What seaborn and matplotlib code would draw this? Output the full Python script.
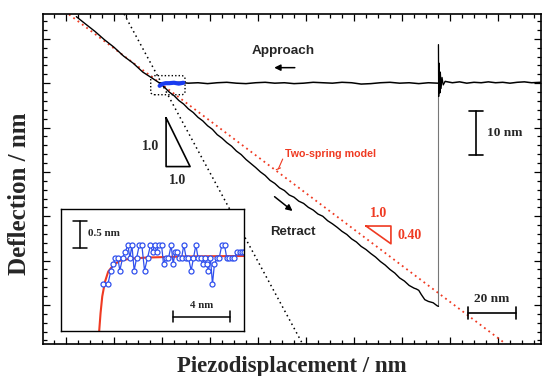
"""curva de forca: deflexao x piezodeslocamento, com inset do contato."""

import matplotlib

matplotlib.use("Agg")
import matplotlib.pyplot as plt
import seaborn as sns
from matplotlib.patches import FancyBboxPatch
from matplotlib.ticker import MultipleLocator

# dados (nm)
approach_x = [39, 43, 47, 51, 55, 59, 63, 67, 71, 75, 79, 83, 87, 91, 95, 99, 103, 107, 111, 115,
              119, 123, 127, 131, 135, 139, 143, 147, 151, 155]
approach_y = [50.1, 50.0, 50.2, 50.0, 50.1, 49.9, 50.1, 50.2, 50.0, 49.9, 50.1, 50.2, 50.0, 50.1, 49.9,
              50.0, 50.2, 50.1, 50.0, 50.2, 50.1, 49.8, 49.9, 50.1, 50.2, 50.0, 50.1, 49.9, 50.1, 50.0]
far_x = [158, 161, 164, 167, 170, 173, 176, 179, 182, 185, 188, 191, 194, 197.9]
far_y = [50.4, 50.1, 50.3, 50.0, 50.2, 50.1, 50.3, 50.1, 50.2, 50.0, 50.2, 50.3, 50.1, 50.2]
ring_x = [155.2, 155.3, 155.5, 155.8, 156.0, 156.3, 156.7, 157.2, 158.0]
ring_y = [58.7, 47.0, 54.5, 47.8, 52.5, 48.8, 51.3, 49.6, 50.4]
jump_x = [155.2, 155.2]
jump_y = [-0.3, 58.7]

contact_x = [4.3, 8, 12, 16, 20, 24, 28, 32, 36, 38.8]
contact_y = [65.0, 63.4, 61.7, 59.8, 58.1, 56.1, 54.5, 52.5, 51.1, 50.1]
retract_x = [38.8, 41, 43, 45, 47, 49, 51, 53, 55, 57, 59, 61, 63, 65, 67, 69, 71, 73, 75, 77, 79,
             81, 83, 85, 87, 89, 91, 93, 95, 97, 99, 101, 103, 105, 107, 109, 111, 113, 115, 117,
             119, 121, 123, 125, 127, 129, 131, 133, 135, 137, 139, 141, 143, 145, 146, 147, 148,
             149.5, 151, 153, 154.7, 155.2]
retract_y = [50.1, 49.1, 48.0, 47.2, 46.1, 45.3, 44.2, 43.4, 42.3, 41.5, 40.4, 39.6, 38.4, 37.6, 36.6,
             35.8, 34.7, 33.9, 32.8, 31.9, 31.0, 30.0, 29.2, 28.1, 27.4, 26.4, 25.8, 24.8, 24.3, 23.4,
             22.9, 22.0, 21.4, 20.5, 20.0, 19.0, 18.3, 17.5, 16.6, 15.9, 14.9, 14.2, 13.2, 12.5, 11.6,
             10.8, 9.8, 9.0, 8.0, 7.2, 6.1, 5.4, 4.4, 3.8, 3.6, 3.3, 2.4, 1.2, 0.8, 0.5, -0.2, -0.3]
blue_x = [39.0, 40.0, 41.5, 43.0, 45.0, 47.0, 48.9]
blue_y = [49.4, 49.8, 50.0, 50.0, 50.1, 49.9, 50.1]

slope1_x = [24.2, 98.6]
slope1_y = [65.6, -8.8]
model_x = [1.25, 183.3]
model_y = [65.5, -8.8]

# inset (nm)
inset_x = [2.98, 3.31, 3.52, 3.69, 3.83, 4.01, 4.15, 4.34, 4.53, 4.72, 4.86, 5.00, 5.16, 5.33, 5.52,
           5.70, 5.89, 6.10, 6.31, 6.46, 6.60, 6.74, 6.90, 7.09, 7.23, 7.39, 7.58, 7.77, 7.91, 8.05,
           8.19, 8.33, 8.50, 8.66, 8.83, 8.99, 9.18, 9.34, 9.51, 9.67, 9.84, 10.00, 10.14, 10.26,
           10.40, 10.54, 10.68, 10.82, 10.99, 11.15, 11.34, 11.53, 11.69, 11.85, 12.04, 12.23,
           12.42, 12.61, 12.79, 12.92]
inset_y = [0.87, 0.87, 1.12, 1.24, 1.35, 1.35, 1.12, 1.35, 1.47, 1.59, 1.35, 1.59, 1.12, 1.35, 1.59,
           1.59, 1.12, 1.35, 1.59, 1.47, 1.59, 1.47, 1.59, 1.59, 1.24, 1.35, 1.35, 1.59, 1.24, 1.47,
           1.47, 1.35, 1.35, 1.59, 1.35, 1.35, 1.12, 1.35, 1.59, 1.35, 1.35, 1.24, 1.35, 1.24, 1.12,
           1.35, 0.87, 1.24, 1.35, 1.35, 1.59, 1.59, 1.35, 1.35, 1.35, 1.35, 1.47, 1.47, 1.47, 1.47]
fit_x = [2.68, 2.79, 2.91, 3.10, 3.33, 3.69, 4.15, 4.86, 6.03, 8.61, 12.95]
fit_y = [-0.05, 0.33, 0.64, 0.91, 1.10, 1.22, 1.30, 1.34, 1.36, 1.38, 1.39]

RED = "#ef3a22"
BLUE = "#1a3cf0"
SERIF = "Liberation Serif"
SANS = "Liberation Sans"


def line(ax, x, y, **kw):
    sns.lineplot(x=x, y=y, ax=ax, sort=False, estimator=None, legend=False, **kw)


sns.set_style("ticks")
plt.rcParams["font.family"] = ["Liberation Serif", "DejaVu Serif"]

fig = plt.figure(figsize=(5.42, 3.76), dpi=100)
ax = fig.add_axes([0.0793, 0.0851, 0.9187, 0.8777])

line(ax, model_x, model_y, color=RED, lw=1.3, linestyle=(0, (1, 2)))
line(ax, slope1_x, slope1_y, color="black", lw=1.1, linestyle=(0, (1, 2.2)))
line(ax, jump_x, jump_y, color="#777777", lw=0.8)
line(ax, contact_x, contact_y, color="black", lw=1.0)
line(ax, retract_x, retract_y, color="black", lw=1.0)
line(ax, approach_x, approach_y, color="black", lw=1.1)
line(ax, ring_x, ring_y, color="black", lw=0.9)
line(ax, far_x, far_y, color="black", lw=1.1)
line(ax, blue_x, blue_y, color=BLUE, lw=3)

box = FancyBboxPatch((35.3, 47.4), 14.3, 4.3, boxstyle="round,pad=0,rounding_size=1.5",
                     mutation_aspect=2.4 / 4.43, fill=False, ec="black", lw=1.0, ls=(0, (1, 1.5)))
ax.add_patch(box)

ax.set_xlim(-9.6, 197.9)
ax.set_ylim(-8.8, 65.6)
ax.xaxis.set_major_locator(MultipleLocator(20))
ax.xaxis.set_minor_locator(MultipleLocator(5))
ax.yaxis.set_major_locator(MultipleLocator(10))
ax.yaxis.set_minor_locator(MultipleLocator(2))
ax.tick_params(which="both", direction="in", top=True, right=True, labelbottom=False,
               labelleft=False, width=0.9, color="black")
ax.tick_params(which="major", length=5)
ax.tick_params(which="minor", length=3)
for s in ax.spines.values():
    s.set_linewidth(1.2)
    s.set_color("black")

fig.text(0.539, 0.026, "Piezodisplacement / nm", fontsize=16.5, fontweight="bold", family=SERIF,
         ha="center", va="center")
fig.text(0.036, 0.485, "Deflection / nm", fontsize=18, fontweight="bold", family=SERIF,
         ha="center", va="center", rotation=90)

# textos e setas
ax.text(90.6, 57.2, "Approach", family=SANS, fontweight="bold", fontsize=9.7, ha="center", va="center")
ax.annotate("", xy=(85.6, 53.5), xytext=(96.5, 53.5),
            arrowprops=dict(arrowstyle="-|>", color="black", lw=1.1, mutation_scale=9))
ax.text(94.7, 16.5, "Retract", family=SANS, fontweight="bold", fontsize=9.5, ha="center", va="center")
ax.annotate("", xy=(95.3, 20.8), xytext=(86.0, 24.8),
            arrowprops=dict(arrowstyle="-|>", color="black", lw=1.1, mutation_scale=9))
ax.text(110.1, 34.1, "Two-spring model", family=SANS, fontweight="bold", fontsize=7.7, color=RED,
        ha="center", va="center")
ax.plot([90.3, 88.5], [32.9, 30.7], color=RED, lw=0.8)
ax.plot([87.6, 89.4], [30.5, 30.9], color=RED, lw=0.8)

# triangulos de inclinacao
ax.plot([41.7, 41.7, 51.7, 41.7], [42.2, 31.2, 31.2, 42.2], color="black", lw=1.2)
ax.text(35.1, 35.7, "1.0", fontsize=10, fontweight="bold", ha="center", va="center")
ax.text(46.4, 28.0, "1.0", fontsize=10, fontweight="bold", ha="center", va="center")
ax.plot([125.0, 135.4, 135.4, 125.0], [17.8, 17.8, 13.8, 17.8], color=RED, lw=1.2)
ax.text(130.1, 20.7, "1.0", fontsize=10, fontweight="bold", color=RED, ha="center", va="center")
ax.text(143.1, 15.6, "0.40", fontsize=10, fontweight="bold", color=RED, ha="center", va="center")

# barras de escala
ax.plot([170.8, 170.8], [33.9, 43.8], color="black", lw=1.2)
ax.plot([167.9, 173.7], [43.8, 43.8], color="black", lw=1.2)
ax.plot([167.9, 173.7], [33.9, 33.9], color="black", lw=1.2)
ax.text(175.4, 38.8, "10 nm", fontsize=9.6, fontweight="bold", ha="left", va="center")
ax.plot([167.5, 187.5], [-1.8, -1.8], color="black", lw=1.2)
ax.plot([167.5, 167.5], [-3.1, -0.5], color="black", lw=1.2)
ax.plot([187.5, 187.5], [-3.1, -0.5], color="black", lw=1.2)
ax.text(177.3, 1.4, "20 nm", fontsize=9.6, fontweight="bold", ha="center", va="center")

# inset
ins = fig.add_axes([0.1125, 0.1197, 0.3376, 0.3245])
ins.set_facecolor("white")
line(ins, fit_x, fit_y, color=RED, lw=1.5)
line(ins, inset_x, inset_y, color="#3050ee", lw=0.9, marker="o", markersize=3.6,
     markerfacecolor="white", markeredgecolor="#3050ee", markeredgewidth=0.9)
ins.set_xlim(0, 12.9)
ins.set_ylim(0, 2.26)
ins.set_xticks([])
ins.set_yticks([])
for s in ins.spines.values():
    s.set_linewidth(1.0)
    s.set_color("black")
ins.plot([1.34, 1.34], [1.54, 2.04], color="black", lw=1.1)
ins.plot([0.85, 1.83], [2.04, 2.04], color="black", lw=1.1)
ins.plot([0.85, 1.83], [1.54, 1.54], color="black", lw=1.1)
ins.text(1.92, 1.80, "0.5 nm", fontsize=8, fontweight="bold", ha="left", va="center")
ins.plot([7.91, 11.9], [0.265, 0.265], color="black", lw=1.1)
ins.plot([7.91, 7.91], [0.165, 0.365], color="black", lw=1.1)
ins.plot([11.9, 11.9], [0.165, 0.365], color="black", lw=1.1)
ins.text(9.9, 0.47, "4 nm", fontsize=7.8, fontweight="bold", ha="center", va="center")

fig.savefig("out.png", dpi=100)
